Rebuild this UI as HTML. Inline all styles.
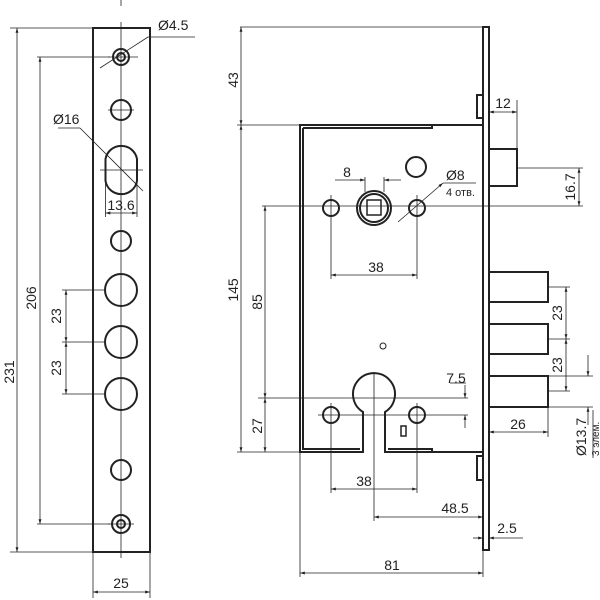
<!DOCTYPE html>
<html><head><meta charset="utf-8"><style>html,body{margin:0;padding:0;background:#fff}svg{display:block}text{font-family:"Liberation Sans",sans-serif;fill:#222}</style></head><body>
<svg width="600" height="600" viewBox="0 0 600 600" xmlns="http://www.w3.org/2000/svg">
<defs>
<marker id="a" viewBox="0 0 10 10" refX="10" refY="5" markerWidth="6" markerHeight="6" orient="auto-start-reverse"><path d="M0,2 L10,5 L0,8z" fill="#222"/></marker>
</defs>
<g stroke="#222" fill="none">
<!-- LEFT STRIP -->
<rect x="93" y="28" width="57" height="524" stroke-width="2"/>
<line x1="121" y1="22" x2="121" y2="558" stroke-width="0.8"/>
<line x1="121" y1="0" x2="121" y2="6" stroke-width="0.8"/>
<g stroke-width="2">
<circle cx="121" cy="57" r="8"/><circle cx="121" cy="57" r="4"/>
<circle cx="121" cy="110" r="10"/>
<path d="M105.5,159 A16,16 0 0 1 137,159 L137,181 A16,16 0 0 1 105.5,181 Z"/>
<circle cx="121" cy="241" r="10"/>
<circle cx="121" cy="290" r="16"/>
<circle cx="121" cy="342" r="16"/>
<circle cx="121" cy="394" r="16"/>
<circle cx="121" cy="470" r="10"/>
<circle cx="121" cy="524" r="9"/><circle cx="121" cy="524" r="4"/>
</g>
<g stroke-width="0.8">
<line x1="108" y1="110" x2="134" y2="110"/><line x1="100" y1="170" x2="143" y2="170"/>
<line x1="108" y1="57" x2="138" y2="57"/><line x1="108" y1="524" x2="134" y2="524"/>
<line x1="10" y1="28" x2="93" y2="28"/><line x1="10" y1="552" x2="93" y2="552"/>
<line x1="17" y1="28" x2="17" y2="552" marker-start="url(#a)" marker-end="url(#a)"/>
<line x1="37" y1="57" x2="110" y2="57"/><line x1="37" y1="524" x2="110" y2="524"/>
<line x1="40" y1="57" x2="40" y2="524" marker-start="url(#a)" marker-end="url(#a)"/>
<line x1="62" y1="290" x2="105" y2="290"/><line x1="62" y1="342" x2="105" y2="342"/><line x1="62" y1="394" x2="105" y2="394"/>
<line x1="66" y1="290" x2="66" y2="342" marker-start="url(#a)" marker-end="url(#a)"/>
<line x1="66" y1="342" x2="66" y2="394" marker-start="url(#a)" marker-end="url(#a)"/>
<line x1="93" y1="552" x2="93" y2="598"/><line x1="150" y1="552" x2="150" y2="598"/>
<line x1="93" y1="592" x2="150" y2="592" marker-start="url(#a)" marker-end="url(#a)"/>
<line x1="100" y1="68" x2="148" y2="37"/><line x1="148" y1="37" x2="195" y2="37"/>
<line x1="58" y1="128" x2="80" y2="128"/><line x1="80" y1="128" x2="143" y2="191"/>
<line x1="105.5" y1="180" x2="105.5" y2="217"/><line x1="137" y1="180" x2="137" y2="217"/>
<line x1="105.5" y1="213" x2="137" y2="213" marker-start="url(#a)" marker-end="url(#a)"/>
</g>
<!-- RIGHT BODY -->
<g stroke-width="2">
<path d="M483,27 L489,27 L489,550 L483,550 Z"/>
<path d="M483,125 L300,125 L300,452 L363,452 L363,412 A21,21 0 1 1 385,412 L385,452 L483,452"/>
<path d="M303,128 L303,449 L360,449"/>
<path d="M303,128 L432,128 L432,125"/>
<path d="M388,449 L432,449 L432,452"/>
<rect x="477" y="95" width="6" height="23"/><rect x="477" y="456" width="6" height="24"/>
<rect x="489" y="149" width="28" height="37"/>
<rect x="489" y="272" width="59" height="30"/><rect x="489" y="324" width="59" height="30"/><rect x="489" y="376" width="59" height="31"/>
<circle cx="331" cy="208" r="8"/><circle cx="417" cy="208" r="8"/>
<circle cx="331" cy="415" r="8"/><circle cx="417" cy="415" r="8"/>
<circle cx="374" cy="208" r="17"/><circle cx="374" cy="208" r="14"/>
<rect x="367" y="200" width="14" height="15" stroke-width="1.5"/>
<circle cx="416" cy="167" r="10"/>
<rect x="401" y="426" width="5" height="10" stroke-width="1.5"/>
</g>
<circle cx="383" cy="346" r="3" stroke-width="1"/>
<g stroke-width="0.8">
<line x1="240" y1="27" x2="483" y2="27"/>
<line x1="237" y1="125" x2="300" y2="125"/><line x1="237" y1="452" x2="300" y2="452"/>
<line x1="241" y1="27" x2="241" y2="125" marker-start="url(#a)" marker-end="url(#a)"/>
<line x1="241" y1="125" x2="241" y2="452" marker-start="url(#a)" marker-end="url(#a)"/>
<line x1="262" y1="206" x2="583" y2="206"/>
<line x1="258" y1="398" x2="468" y2="398"/><line x1="318" y1="415" x2="468" y2="415"/>
<line x1="265" y1="206" x2="265" y2="398" marker-start="url(#a)" marker-end="url(#a)"/>
<line x1="265" y1="398" x2="265" y2="452" marker-start="url(#a)" marker-end="url(#a)"/>
<line x1="331" y1="195" x2="331" y2="279"/><line x1="417" y1="195" x2="417" y2="279"/>
<line x1="331" y1="275" x2="417" y2="275" marker-start="url(#a)" marker-end="url(#a)"/>
<line x1="331" y1="403" x2="331" y2="493"/><line x1="417" y1="403" x2="417" y2="493"/>
<line x1="331" y1="489" x2="417" y2="489" marker-start="url(#a)" marker-end="url(#a)"/>
<line x1="374" y1="372" x2="374" y2="521"/>
<line x1="374" y1="517" x2="483" y2="517" marker-start="url(#a)" marker-end="url(#a)"/>
<line x1="300" y1="452" x2="300" y2="577"/><line x1="483" y1="550" x2="483" y2="577"/>
<line x1="300" y1="573" x2="483" y2="573" marker-start="url(#a)" marker-end="url(#a)"/>
<line x1="473" y1="538" x2="483" y2="538" marker-end="url(#a)"/><line x1="523" y1="538" x2="489" y2="538" marker-end="url(#a)"/>
<line x1="365" y1="177" x2="365" y2="192"/><line x1="384" y1="177" x2="384" y2="192"/>
<line x1="335" y1="180" x2="365" y2="180" marker-end="url(#a)"/><line x1="401" y1="180" x2="384" y2="180" marker-end="url(#a)"/>
<line x1="398" y1="222" x2="443" y2="183" marker-end="url(#a)"/><line x1="443" y1="183" x2="476" y2="183"/>
<line x1="465" y1="385" x2="465" y2="398" marker-end="url(#a)"/><line x1="465" y1="428" x2="465" y2="415" marker-end="url(#a)"/>
<line x1="450" y1="383" x2="466" y2="383"/>
<line x1="489" y1="100" x2="489" y2="116"/><line x1="517" y1="100" x2="517" y2="149"/>
<line x1="489" y1="112" x2="517" y2="112" marker-start="url(#a)" marker-end="url(#a)"/>
<line x1="517" y1="168" x2="583" y2="168"/>
<line x1="579" y1="168" x2="579" y2="206" marker-start="url(#a)" marker-end="url(#a)"/>
<line x1="548" y1="287" x2="570" y2="287"/><line x1="548" y1="339" x2="570" y2="339"/><line x1="548" y1="391" x2="570" y2="391"/>
<line x1="566" y1="287" x2="566" y2="339" marker-start="url(#a)" marker-end="url(#a)"/>
<line x1="566" y1="339" x2="566" y2="391" marker-start="url(#a)" marker-end="url(#a)"/>
<line x1="548" y1="376" x2="593" y2="376"/><line x1="548" y1="407" x2="593" y2="407"/>
<line x1="588" y1="355" x2="588" y2="376" marker-end="url(#a)"/><line x1="588" y1="425" x2="588" y2="407" marker-end="url(#a)"/>
<line x1="548" y1="407" x2="548" y2="437"/><line x1="489" y1="452" x2="489" y2="437"/>
<line x1="489" y1="432" x2="548" y2="432" marker-start="url(#a)" marker-end="url(#a)"/>
<line x1="593" y1="410" x2="593" y2="458"/>
</g>
</g>
<g font-size="14">
<text x="158" y="30">Ø4.5</text>
<text x="53" y="124">Ø16</text>
<text x="121" y="210" text-anchor="middle">13.6</text>
<text x="121" y="588" text-anchor="middle">25</text>
<text transform="translate(14,372) rotate(-90)" text-anchor="middle">231</text>
<text transform="translate(36,298) rotate(-90)" text-anchor="middle">206</text>
<text transform="translate(61,316) rotate(-90)" text-anchor="middle">23</text>
<text transform="translate(61,368) rotate(-90)" text-anchor="middle">23</text>
<text transform="translate(238,80) rotate(-90)" text-anchor="middle">43</text>
<text transform="translate(238,290) rotate(-90)" text-anchor="middle">145</text>
<text transform="translate(262,302) rotate(-90)" text-anchor="middle">85</text>
<text transform="translate(262,426) rotate(-90)" text-anchor="middle">27</text>
<text x="347" y="177" text-anchor="middle">8</text>
<text x="446" y="180">Ø8</text>
<text x="446" y="196" font-size="11">4 отв.</text>
<text x="376" y="272" text-anchor="middle">38</text>
<text x="364" y="486" text-anchor="middle">38</text>
<text x="456" y="383" text-anchor="middle">7.5</text>
<text x="455" y="513" text-anchor="middle">48.5</text>
<text x="507" y="533" text-anchor="middle">2.5</text>
<text x="392" y="570" text-anchor="middle">81</text>
<text x="503" y="108" text-anchor="middle">12</text>
<text x="518" y="429" text-anchor="middle">26</text>
<text transform="translate(575,187) rotate(-90)" text-anchor="middle">16.7</text>
<text transform="translate(562,313) rotate(-90)" text-anchor="middle">23</text>
<text transform="translate(562,365) rotate(-90)" text-anchor="middle">23</text>
<text transform="translate(586,456) rotate(-90)">Ø13.7</text>
<text transform="translate(599,456) rotate(-90)" font-size="10">3 элем.</text>
</g>
</svg>
</body></html>
